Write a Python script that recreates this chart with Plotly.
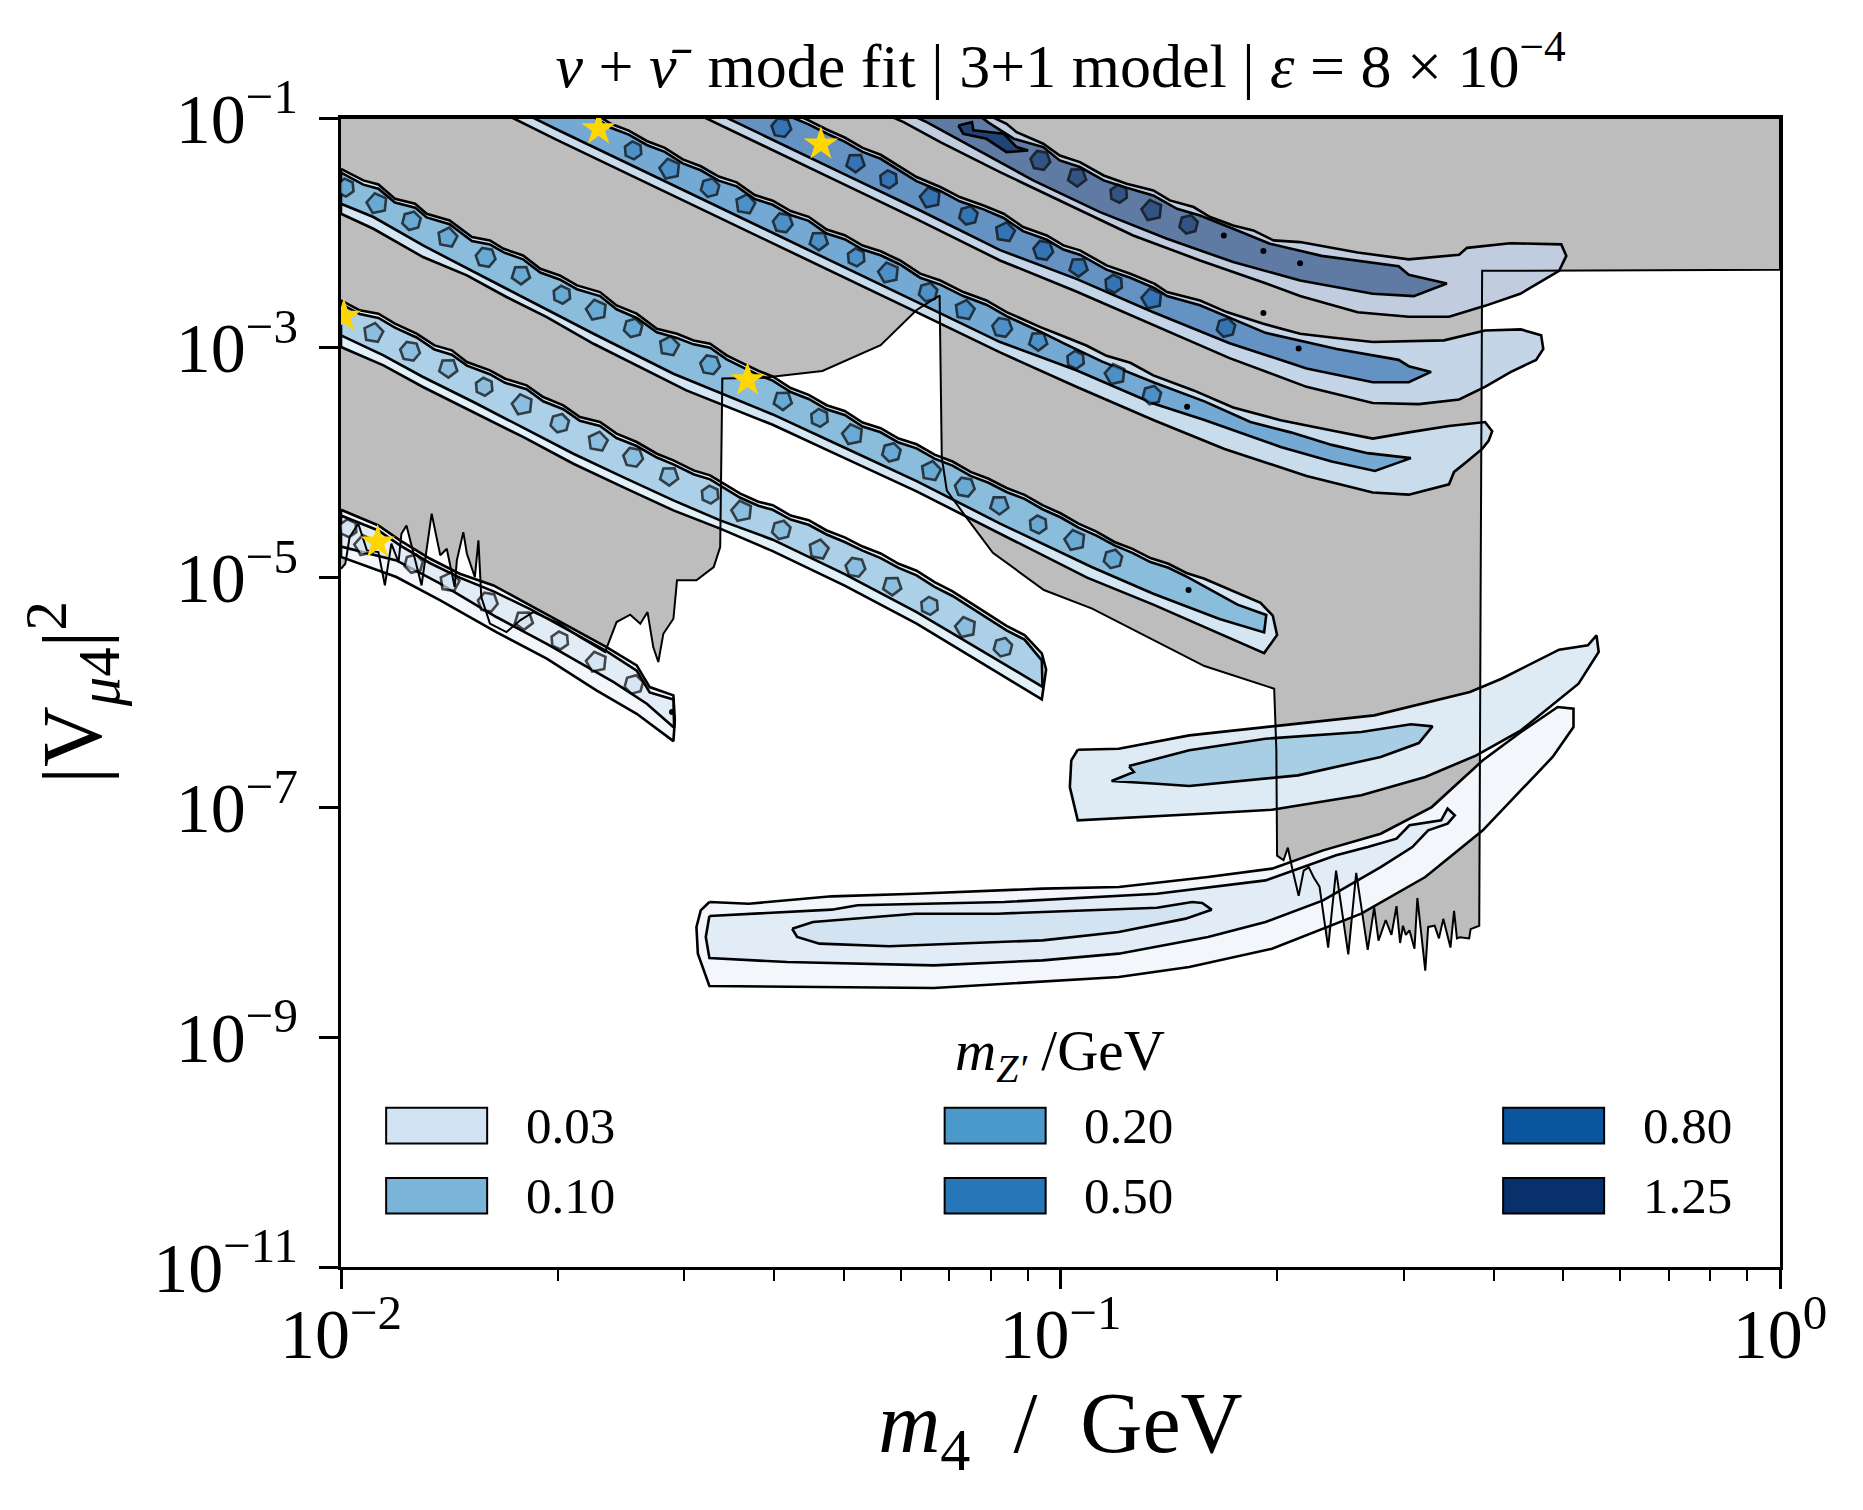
import plotly.graph_objects as go

# all coordinates are log10(m4), log10(|V|^2) pairs
gray_region = [(-2,-1),(0,-1),(0,-2.32),(-0.2,-2.325),(-0.414,-2.33),(-0.416,-5.0),(-0.418,-8.03),(-0.43,-8.06),(-0.432,-8.14),(-0.445,-8.13),(-0.449,-8.14),(-0.453,-7.9),(-0.458,-8.22),(-0.468,-7.97),(-0.474,-8.14),(-0.48,-8.03),(-0.489,-8.04),(-0.493,-8.42),(-0.504,-7.79),(-0.508,-8.23),(-0.515,-8.07),(-0.52,-8.11),(-0.524,-8.03),(-0.528,-8.18),(-0.533,-7.86),(-0.54,-8.11),(-0.548,-7.98),(-0.558,-8.16),(-0.564,-7.87),(-0.573,-8.24),(-0.589,-7.57),(-0.6,-8.28),(-0.617,-7.55),(-0.628,-8.22),(-0.64,-7.69),(-0.648,-7.61),(-0.655,-7.52),(-0.662,-7.55),(-0.669,-7.77),(-0.678,-7.53),(-0.684,-7.35),(-0.69,-7.46),(-0.699,-7.42),(-0.7,-6.5),(-0.703,-5.967),(-0.80,-5.77),(-0.871,-5.54),(-0.956,-5.27),(-1.023,-5.108),(-1.094,-4.784),(-1.133,-4.458),(-1.158,-4.242),(-1.165,-3.953),(-1.168,-2.545),(-1.2,-2.671),(-1.25,-2.978),(-1.331,-3.202),(-1.413,-3.26),(-1.47,-3.267),(-1.473,-4.734),(-1.482,-4.908),(-1.506,-5.024),(-1.533,-5.024),(-1.538,-5.358),(-1.552,-5.489),(-1.559,-5.735),(-1.566,-5.605),(-1.574,-5.30),(-1.584,-5.401),(-1.598,-5.323),(-1.617,-5.387),(-1.633,-5.648),(-1.668,-5.518),(-1.696,-5.401),(-1.733,-5.30),(-1.751,-5.372),(-1.77,-5.474),(-1.793,-5.401),(-1.805,-5.169),(-1.809,-4.676),(-1.814,-4.995),(-1.825,-4.792),(-1.83,-4.604),(-1.839,-4.85),(-1.842,-5.082),(-1.853,-4.749),(-1.862,-4.807),(-1.874,-4.444),(-1.888,-5.068),(-1.909,-4.546),(-1.916,-4.618),(-1.92,-4.865),(-1.93,-4.705),(-1.939,-5.068),(-1.948,-4.778),(-1.964,-4.763),(-1.976,-4.531),(-1.988,-4.647),(-1.994,-4.879),(-2,-4.923)]

d1_outer = [(-2,-4.41),(-1.948,-4.546),(-1.918,-4.676),(-1.876,-4.836),(-1.835,-4.966),(-1.788,-5.068),(-1.737,-5.242),(-1.691,-5.401),(-1.631,-5.605),(-1.589,-5.764),(-1.571,-5.953),(-1.538,-6.025),(-1.536,-6.243),(-1.538,-6.423),(-1.589,-6.185),(-1.645,-5.982),(-1.714,-5.706),(-1.784,-5.474),(-1.862,-5.198),(-1.923,-4.995),(-2,-4.82)]
d1_mid = [(-2,-4.46),(-1.948,-4.59),(-1.918,-4.72),(-1.876,-4.875),(-1.835,-5.0),(-1.788,-5.12),(-1.737,-5.275),(-1.691,-5.435),(-1.631,-5.64),(-1.589,-5.81),(-1.571,-6.0),(-1.538,-6.06),(-1.537,-6.307),(-1.575,-6.098),(-1.621,-5.909),(-1.714,-5.576),(-1.784,-5.343),(-1.862,-5.053),(-1.923,-4.85),(-2,-4.73)]
d1_islands_x = [-1.99,-1.967,-1.899,-1.849,-1.796,-1.746,-1.696,-1.645,-1.593]
d1_islands_y = [-4.57,-4.72,-4.879,-5.039,-5.213,-5.372,-5.547,-5.735,-5.93]

d2_outer = [(-2,-2.587),(-1.974,-2.674),(-1.948,-2.703),(-1.925,-2.79),(-1.895,-2.877),(-1.87,-2.979),(-1.846,-3.022),(-1.825,-3.124),(-1.793,-3.196),(-1.772,-3.269),(-1.742,-3.327),(-1.719,-3.428),(-1.691,-3.501),(-1.668,-3.602),(-1.64,-3.646),(-1.617,-3.747),(-1.589,-3.82),(-1.561,-3.922),(-1.538,-3.98),(-1.51,-4.067),(-1.487,-4.11),(-1.464,-4.197),(-1.445,-4.27),(-1.42,-4.34),(-1.4,-4.37),(-1.375,-4.46),(-1.35,-4.5),(-1.325,-4.59),(-1.3,-4.65),(-1.275,-4.73),(-1.25,-4.79),(-1.225,-4.88),(-1.2,-4.94),(-1.175,-5.04),(-1.15,-5.12),(-1.125,-5.22),(-1.1,-5.32),(-1.075,-5.42),(-1.05,-5.5),(-1.026,-5.66),(-1.02,-5.8),(-1.026,-6.06),(-1.1,-5.78),(-1.2,-5.4),(-1.3,-5.07),(-1.4,-4.77),(-1.473,-4.574),(-1.538,-4.415),(-1.608,-4.212),(-1.677,-4.009),(-1.747,-3.776),(-1.816,-3.559),(-1.886,-3.341),(-1.941,-3.153),(-2,-2.993)]
d2_mid = [(-2,-2.62),(-1.974,-2.705),(-1.948,-2.74),(-1.925,-2.825),(-1.895,-2.91),(-1.87,-3.015),(-1.846,-3.06),(-1.825,-3.155),(-1.793,-3.23),(-1.772,-3.305),(-1.742,-3.36),(-1.719,-3.465),(-1.691,-3.535),(-1.668,-3.635),(-1.64,-3.68),(-1.617,-3.785),(-1.589,-3.855),(-1.561,-3.955),(-1.538,-4.015),(-1.51,-4.1),(-1.487,-4.145),(-1.464,-4.235),(-1.445,-4.305),(-1.42,-4.375),(-1.4,-4.41),(-1.375,-4.495),(-1.35,-4.54),(-1.325,-4.625),(-1.3,-4.69),(-1.275,-4.765),(-1.25,-4.83),(-1.225,-4.915),(-1.2,-4.98),(-1.175,-5.08),(-1.15,-5.16),(-1.125,-5.26),(-1.1,-5.36),(-1.075,-5.46),(-1.05,-5.54),(-1.026,-5.72),(-1.025,-5.95),(-1.1,-5.67),(-1.2,-5.3),(-1.3,-4.97),(-1.4,-4.67),(-1.473,-4.502),(-1.538,-4.328),(-1.608,-4.125),(-1.677,-3.922),(-1.747,-3.695),(-1.816,-3.472),(-1.886,-3.254),(-1.941,-3.066),(-2,-2.892)]
d2_islands_x = [-1.955,-1.904,-1.851,-1.801,-1.748,-1.696,-1.643,-1.594,-1.544,-1.487,-1.443,-1.388,-1.336,-1.285,-1.234,-1.182,-1.132,-1.08]
d2_islands_y = [-2.87,-3.03,-3.177,-3.339,-3.495,-3.656,-3.816,-3.953,-4.116,-4.278,-4.422,-4.585,-4.755,-4.91,-5.072,-5.246,-5.433,-5.606]

d3_outer = [(-2,-1.442),(-1.969,-1.543),(-1.948,-1.578),(-1.925,-1.703),(-1.897,-1.746),(-1.881,-1.833),(-1.849,-1.891),(-1.818,-2.036),(-1.793,-2.065),(-1.774,-2.138),(-1.747,-2.196),(-1.723,-2.312),(-1.696,-2.37),(-1.672,-2.457),(-1.64,-2.515),(-1.617,-2.631),(-1.589,-2.703),(-1.561,-2.834),(-1.533,-2.878),(-1.51,-2.936),(-1.487,-2.965),(-1.464,-3.066),(-1.445,-3.124),(-1.42,-3.2),(-1.4,-3.25),(-1.375,-3.35),(-1.35,-3.41),(-1.325,-3.5),(-1.3,-3.55),(-1.275,-3.65),(-1.25,-3.7),(-1.225,-3.79),(-1.2,-3.84),(-1.175,-3.93),(-1.15,-3.99),(-1.125,-4.08),(-1.1,-4.14),(-1.075,-4.22),(-1.05,-4.28),(-1.025,-4.37),(-1.0,-4.44),(-0.975,-4.53),(-0.95,-4.6),(-0.925,-4.69),(-0.9,-4.75),(-0.875,-4.83),(-0.85,-4.88),(-0.825,-4.96),(-0.8,-5.01),(-0.76,-5.12),(-0.722,-5.22),(-0.705,-5.33),(-0.699,-5.5),(-0.717,-5.657),(-0.786,-5.47),(-0.871,-5.235),(-0.963,-5.0),(-1.084,-4.62),(-1.2,-4.25),(-1.3,-3.96),(-1.4,-3.67),(-1.52,-3.371),(-1.584,-3.168),(-1.649,-2.965),(-1.714,-2.733),(-1.77,-2.558),(-1.825,-2.37),(-1.886,-2.21),(-1.955,-1.964),(-2,-1.833)]
d3_mid = [(-2,-1.475),(-1.969,-1.58),(-1.948,-1.615),(-1.925,-1.735),(-1.897,-1.78),(-1.881,-1.865),(-1.849,-1.925),(-1.818,-2.07),(-1.793,-2.1),(-1.774,-2.17),(-1.747,-2.23),(-1.723,-2.345),(-1.696,-2.405),(-1.672,-2.49),(-1.64,-2.55),(-1.617,-2.665),(-1.589,-2.74),(-1.561,-2.865),(-1.533,-2.915),(-1.51,-2.97),(-1.487,-3.0),(-1.464,-3.1),(-1.445,-3.16),(-1.42,-3.235),(-1.4,-3.285),(-1.375,-3.385),(-1.35,-3.445),(-1.325,-3.535),(-1.3,-3.585),(-1.275,-3.685),(-1.25,-3.735),(-1.225,-3.825),(-1.2,-3.875),(-1.175,-3.965),(-1.15,-4.025),(-1.125,-4.115),(-1.1,-4.175),(-1.075,-4.255),(-1.05,-4.315),(-1.025,-4.405),(-1.0,-4.475),(-0.975,-4.565),(-0.95,-4.635),(-0.925,-4.72),(-0.9,-4.785),(-0.875,-4.865),(-0.85,-4.915),(-0.822,-5.0),(-0.754,-5.235),(-0.714,-5.325),(-0.717,-5.477),(-0.779,-5.36),(-0.871,-5.14),(-0.956,-4.91),(-1.084,-4.53),(-1.2,-4.16),(-1.3,-3.87),(-1.4,-3.58),(-1.538,-3.226),(-1.649,-2.878),(-1.77,-2.486),(-1.886,-2.109),(-1.955,-1.862),(-2,-1.746)]
d3_islands_x = [-1.994,-1.95,-1.902,-1.852,-1.799,-1.75,-1.693,-1.645,-1.594,-1.544,-1.487,-1.386,-1.335,-1.289,-1.235,-1.18,-1.133,-1.085,-1.031,-0.98,-0.927]
d3_islands_y = [-1.606,-1.744,-1.895,-2.04,-2.213,-2.365,-2.538,-2.671,-2.827,-2.986,-3.148,-3.459,-3.61,-3.755,-3.91,-4.072,-4.213,-4.368,-4.538,-4.675,-4.838]

d4_outer = [(-1.7,-0.82),(-1.675,-0.9),(-1.65,-0.95),(-1.625,-1.05),(-1.6,-1.11),(-1.575,-1.2),(-1.55,-1.26),(-1.525,-1.36),(-1.5,-1.42),(-1.475,-1.51),(-1.45,-1.56),(-1.425,-1.67),(-1.4,-1.72),(-1.375,-1.81),(-1.35,-1.86),(-1.325,-1.97),(-1.3,-2.02),(-1.275,-2.11),(-1.25,-2.16),(-1.223,-2.24),(-1.195,-2.355),(-1.167,-2.414),(-1.135,-2.515),(-1.103,-2.588),(-1.075,-2.689),(-1.028,-2.82),(-0.996,-2.9),(-0.964,-2.98),(-0.936,-3.07),(-0.903,-3.13),(-0.871,-3.24),(-0.815,-3.371),(-0.76,-3.52),(-0.694,-3.63),(-0.623,-3.72),(-0.566,-3.79),(-0.516,-3.736),(-0.46,-3.68),(-0.41,-3.646),(-0.4,-3.726),(-0.405,-3.81),(-0.414,-3.88),(-0.435,-3.99),(-0.453,-4.08),(-0.46,-4.188),(-0.516,-4.278),(-0.566,-4.26),(-0.658,-4.116),(-0.772,-3.881),(-0.871,-3.628),(-0.978,-3.339),(-1.084,-3.04),(-1.2,-2.69),(-1.3,-2.39),(-1.4,-2.09),(-1.5,-1.79),(-1.6,-1.49),(-1.7,-1.19),(-1.8,-0.88)]
d4_mid = [(-1.7,-0.855),(-1.675,-0.94),(-1.65,-0.985),(-1.625,-1.085),(-1.6,-1.145),(-1.575,-1.235),(-1.55,-1.295),(-1.525,-1.395),(-1.5,-1.455),(-1.475,-1.545),(-1.45,-1.595),(-1.425,-1.705),(-1.4,-1.755),(-1.375,-1.845),(-1.35,-1.895),(-1.325,-2.005),(-1.3,-2.055),(-1.275,-2.145),(-1.25,-2.195),(-1.223,-2.275),(-1.195,-2.39),(-1.167,-2.45),(-1.135,-2.55),(-1.103,-2.625),(-1.075,-2.725),(-1.028,-2.86),(-0.996,-2.96),(-0.942,-3.12),(-0.871,-3.3),(-0.8,-3.466),(-0.736,-3.646),(-0.68,-3.736),(-0.623,-3.845),(-0.573,-3.917),(-0.513,-3.96),(-0.563,-4.072),(-0.623,-3.99),(-0.694,-3.863),(-0.8,-3.628),(-0.871,-3.484),(-0.978,-3.195),(-1.084,-2.95),(-1.2,-2.6),(-1.3,-2.3),(-1.4,-2.0),(-1.5,-1.7),(-1.6,-1.4),(-1.7,-1.1),(-1.8,-0.79)]
d4_islands_x = [-1.594,-1.543,-1.487,-1.438,-1.386,-1.336,-1.284,-1.239,-1.184,-1.133,-1.081,-1.031,-0.979,-0.924,-0.873]
d4_islands_y = [-1.282,-1.444,-1.607,-1.751,-1.913,-2.069,-2.213,-2.347,-2.516,-2.671,-2.823,-2.942,-3.105,-3.231,-3.412]

d5_outer = [(-1.4,-0.87),(-1.375,-0.95),(-1.35,-1.02),(-1.325,-1.1),(-1.3,-1.17),(-1.275,-1.26),(-1.25,-1.32),(-1.223,-1.427),(-1.2,-1.514),(-1.167,-1.601),(-1.14,-1.688),(-1.107,-1.761),(-1.079,-1.833),(-1.052,-1.949),(-1.019,-2.022),(-0.996,-2.109),(-0.973,-2.152),(-0.936,-2.283),(-0.903,-2.355),(-0.869,-2.443),(-0.852,-2.515),(-0.806,-2.588),(-0.769,-2.689),(-0.718,-2.791),(-0.667,-2.878),(-0.623,-2.91),(-0.566,-2.95),(-0.467,-2.935),(-0.41,-2.85),(-0.36,-2.84),(-0.332,-2.89),(-0.329,-3.01),(-0.339,-3.105),(-0.374,-3.21),(-0.41,-3.34),(-0.446,-3.45),(-0.502,-3.49),(-0.566,-3.48),(-0.658,-3.34),(-0.765,-3.09),(-0.871,-2.8),(-0.978,-2.51),(-1.084,-2.24),(-1.2,-1.88),(-1.3,-1.58),(-1.4,-1.28),(-1.5,-0.98)]
d5_mid = [(-1.4,-0.905),(-1.375,-0.99),(-1.35,-1.055),(-1.325,-1.135),(-1.3,-1.205),(-1.275,-1.295),(-1.25,-1.355),(-1.223,-1.46),(-1.2,-1.55),(-1.167,-1.635),(-1.14,-1.725),(-1.107,-1.795),(-1.079,-1.87),(-1.052,-1.985),(-1.019,-2.06),(-0.996,-2.145),(-0.973,-2.19),(-0.936,-2.32),(-0.903,-2.39),(-0.869,-2.48),(-0.852,-2.55),(-0.806,-2.63),(-0.769,-2.73),(-0.715,-2.87),(-0.616,-3.01),(-0.53,-3.105),(-0.516,-3.16),(-0.485,-3.21),(-0.516,-3.3),(-0.566,-3.3),(-0.658,-3.18),(-0.765,-2.96),(-0.871,-2.69),(-0.978,-2.4),(-1.084,-2.15),(-1.2,-1.79),(-1.3,-1.49),(-1.4,-1.19),(-1.5,-0.89)]
d5_islands_x = [-1.388,-1.285,-1.239,-1.181,-1.128,-1.077,-1.024,-0.975,-0.926,-0.873,-0.77]
d5_islands_y = [-1.083,-1.39,-1.534,-1.694,-1.848,-1.993,-2.152,-2.298,-2.443,-2.573,-2.825]

d6_outer = [(-1.15,-0.83),(-1.1,-0.98),(-1.075,-1.05),(-1.061,-1.123),(-1.024,-1.224),(-1.001,-1.326),(-0.973,-1.384),(-0.94,-1.5),(-0.908,-1.572),(-0.871,-1.63),(-0.848,-1.717),(-0.815,-1.775),(-0.792,-1.862),(-0.76,-1.935),(-0.732,-1.978),(-0.704,-2.065),(-0.667,-2.08),(-0.587,-2.17),(-0.516,-2.23),(-0.446,-2.19),(-0.435,-2.13),(-0.375,-2.09),(-0.304,-2.1),(-0.297,-2.2),(-0.307,-2.33),(-0.361,-2.53),(-0.41,-2.635),(-0.46,-2.73),(-0.516,-2.73),(-0.587,-2.69),(-0.667,-2.55),(-0.713,-2.443),(-0.806,-2.24),(-0.899,-2.022),(-0.991,-1.746),(-1.084,-1.471),(-1.167,-1.21),(-1.218,-1.036),(-1.3,-0.81)]
d6_mid = [(-1.1,-1.04),(-1.065,-1.18),(-1.024,-1.253),(-1.001,-1.369),(-0.973,-1.427),(-0.94,-1.543),(-0.908,-1.607),(-0.871,-1.674),(-0.838,-1.79),(-0.806,-1.848),(-0.76,-1.964),(-0.709,-2.094),(-0.637,-2.2),(-0.53,-2.29),(-0.516,-2.365),(-0.463,-2.44),(-0.509,-2.55),(-0.566,-2.53),(-0.667,-2.414),(-0.76,-2.254),(-0.852,-2.051),(-0.945,-1.819),(-1.038,-1.543),(-1.13,-1.224),(-1.186,-1.036),(-1.25,-0.85),(-1.14,-0.85)]
d6_big_island = [(-1.142,-1.065),(-1.123,-1.036),(-1.121,-1.108),(-1.079,-1.137),(-1.061,-1.253),(-1.045,-1.282),(-1.075,-1.297),(-1.103,-1.181),(-1.135,-1.137)]
d6_islands_x = [-1.028,-0.977,-0.919,-0.873,-0.822]
d6_islands_y = [-1.369,-1.514,-1.659,-1.804,-1.926]

small_islands_x = [-0.822,-0.824,-0.773,-0.718,-0.667,-0.669,-0.718,-1.54]
small_islands_y = [-5.108,-3.513,-2.022,-2.158,-2.264,-3.007,-2.698,-6.17]

arc1_outer = [(-1.488,-7.823),(-1.433,-7.838),(-1.318,-7.774),(-1.202,-7.751),(-1.025,-7.707),(-0.919,-7.693),(-0.795,-7.606),(-0.706,-7.533),(-0.635,-7.374),(-0.555,-7.229),(-0.484,-6.997),(-0.413,-6.59),(-0.36,-6.344),(-0.309,-6.126),(-0.287,-6.141),(-0.287,-6.3),(-0.316,-6.561),(-0.369,-6.91),(-0.413,-7.2),(-0.493,-7.606),(-0.582,-7.925),(-0.706,-8.23),(-0.821,-8.389),(-0.919,-8.476),(-1.176,-8.572),(-1.335,-8.563),(-1.488,-8.554),(-1.504,-8.273),(-1.506,-8.041),(-1.5,-7.896)]
arc1_mid = [(-1.488,-7.945),(-1.318,-7.89),(-1.282,-7.852),(-1.078,-7.823),(-0.866,-7.751),(-0.715,-7.635),(-0.617,-7.417),(-0.573,-7.345),(-0.533,-7.272),(-0.515,-7.156),(-0.471,-7.113),(-0.462,-7.011),(-0.452,-7.069),(-0.462,-7.142),(-0.489,-7.2),(-0.511,-7.345),(-0.555,-7.519),(-0.635,-7.809),(-0.715,-7.998),(-0.795,-8.128),(-0.919,-8.273),(-1.025,-8.331),(-1.176,-8.375),(-1.38,-8.346),(-1.488,-8.311),(-1.493,-8.128)]
arc1_inner = [(-1.373,-8.056),(-1.344,-7.998),(-1.202,-7.925),(-1.087,-7.925),(-0.866,-7.873),(-0.817,-7.823),(-0.803,-7.832),(-0.79,-7.89),(-0.826,-7.968),(-0.919,-8.084),(-1.025,-8.157),(-1.238,-8.209),(-1.335,-8.186),(-1.366,-8.128)]
arc2_outer = [(-0.976,-6.498),(-0.919,-6.489),(-0.821,-6.373),(-0.706,-6.295),(-0.564,-6.199),(-0.431,-5.996),(-0.387,-5.88),(-0.307,-5.627),(-0.267,-5.59),(-0.255,-5.503),(-0.252,-5.648),(-0.28,-5.923),(-0.36,-6.329),(-0.422,-6.547),(-0.493,-6.735),(-0.582,-6.895),(-0.706,-7.02),(-0.803,-7.055),(-0.976,-7.113),(-0.987,-6.823),(-0.985,-6.59)]
arc2_inner = [(-0.905,-6.64),(-0.821,-6.503),(-0.715,-6.402),(-0.582,-6.344),(-0.513,-6.277),(-0.483,-6.295),(-0.502,-6.44),(-0.555,-6.561),(-0.67,-6.721),(-0.821,-6.814),(-0.866,-6.794),(-0.929,-6.77),(-0.898,-6.692)]

star_x = [-1.949,-1.996,-1.435,-1.642,-1.333]
star_y = [-4.692,-2.726,-3.28,-1.095,-1.227]

legend_labels = ["0.03","0.10","0.20","0.50","0.80","1.25"]
x_tick_vals = [0.01,0.1,1]
x_tick_text = ["10<sup>−2</sup>","10<sup>−1</sup>","10<sup>0</sup>"]
x_minor_vals = [0.02,0.03,0.04,0.05,0.06,0.07,0.08,0.09,0.2,0.3,0.4,0.5,0.6,0.7,0.8,0.9]
y_tick_vals = [1e-1,1e-3,1e-5,1e-7,1e-9,1e-11]
y_tick_text = ["10<sup>−1</sup>","10<sup>−3</sup>","10<sup>−5</sup>","10<sup>−7</sup>","10<sup>−9</sup>","10<sup>−11</sup>"]

# ---- styles ----
FONT = "Liberation Serif"
GRAY = "#bdbdbd"
LW = 2.6
swatches = ["#d2e3f3","#7ab5d9","#4b98ca","#2676b8","#0b559f","#08306b"]
ISLAND_LOOK = [("pentagon",10,20),("hexagon",15,19),("pentagon",60,21),("hexagon2",25,18),("pentagon",35,19),("hexagon",40,20)]

fig = go.Figure()

def area(points, color, lw=LW, line=True):
    fig.add_trace(go.Scatter(
        x=[10**p[0] for p in points] + [10**points[0][0]],
        y=[10**p[1] for p in points] + [10**points[0][1]],
        mode="lines", fill="toself", fillcolor=color,
        line=dict(color="black" if line else "rgba(0,0,0,0)", width=lw, shape="linear"),
        hoverinfo="skip", showlegend=False))

def islands(xs, ys, color):
    look = [ISLAND_LOOK[(i * 5 + len(xs)) % len(ISLAND_LOOK)] for i in range(len(xs))]
    fig.add_trace(go.Scatter(
        x=[10**v for v in xs], y=[10**v for v in ys], mode="markers",
        marker=dict(color=color, size=[k[2] for k in look], symbol=[k[0] for k in look],
                    angle=[k[1] for k in look], line=dict(color="black", width=2.6)),
        hoverinfo="skip", showlegend=False))

area(gray_region, GRAY, line=False)
area(d6_outer, "#c1cddf"); area(d6_mid, "#5f7ba3"); area(d6_big_island, "#204478"); islands(d6_islands_x, d6_islands_y, "#204478")
area(d5_outer, "#c4d5e8"); area(d5_mid, "#6392c3"); islands(d5_islands_x, d5_islands_y, "#2268ae")
area(d4_outer, "#c9dcec"); area(d4_mid, "#74a9d4"); islands(d4_islands_x, d4_islands_y, "#3d85c2")
area(d3_outer, "#d4e6f3"); area(d3_mid, "#8abcdc"); islands(d3_islands_x, d3_islands_y, "#5ba3d0")
area(d2_outer, "#e2f0f9"); area(d2_mid, "#abd0e7"); islands(d2_islands_x, d2_islands_y, "#7fb8dd")
area(d1_outer, "#f3f7fc"); area(d1_mid, "#e2ecf7"); islands(d1_islands_x, d1_islands_y, "#d2e3f2")
area(arc2_outer, "#deebf5"); area(arc2_inner, "#a8cee5")
area(arc1_outer, "#f3f7fc"); area(arc1_mid, "#e2ecf7"); area(arc1_inner, "#d2e3f2")

fig.add_trace(go.Scatter(
    x=[10**v for v in small_islands_x], y=[10**v for v in small_islands_y], mode="markers",
    marker=dict(symbol="circle", color="black", size=6, line=dict(width=0)),
    hoverinfo="skip", showlegend=False))

# outline of the excluded region sits on top of the bands
fig.add_trace(go.Scatter(
    x=[10**p[0] for p in gray_region], y=[10**p[1] for p in gray_region],
    mode="lines", line=dict(color="black", width=2), hoverinfo="skip", showlegend=False))

fig.add_trace(go.Scatter(
    x=[10**v for v in star_x], y=[10**v for v in star_y], mode="markers",
    marker=dict(symbol="star", color="#ffd700", size=26, line=dict(width=0)),
    hoverinfo="skip", showlegend=False))

shapes, annotations = [], []
L, R, T, B = 287, 1498, 99, 1066
def px(d): return (d - L) / (R - L)
def py(d): return 1 - (d - T) / (B - T)
for col, sx in enumerate([325, 795, 1265]):
    for row, sy in enumerate([932, 991]):
        i = col * 2 + row
        shapes.append(dict(type="rect", xref="paper", yref="paper",
                           x0=px(sx), x1=px(sx + 85), y0=py(sy), y1=py(sy + 30),
                           fillcolor=swatches[i], line=dict(color="black", width=2)))
        annotations.append(dict(xref="paper", yref="paper", x=px(sx + 116), y=py(sy + 15),
                                text=legend_labels[i], showarrow=False, xanchor="left", yanchor="middle",
                                font=dict(family=FONT, size=51, color="black")))
annotations.append(dict(xref="paper", yref="paper", x=px(892), y=py(888),
                        text="<i>m<sub>Z′</sub></i>\u00a0/GeV", showarrow=False, xanchor="center", yanchor="middle",
                        font=dict(family=FONT, size=57, color="black")))

# the page's body adds 8 px on the top and left of the figure
fig.update_layout(
    width=1855, height=1502, margin=dict(l=333, r=83, t=110, b=243),
    paper_bgcolor="white", plot_bgcolor="white", showlegend=False,
    font=dict(family=FONT, color="black"),
    title=dict(text="<i>ν</i> + <i>ν̄</i>\u00a0\u00a0mode fit | 3+1 model | <i>ε</i> = 8 × 10<sup>−4</sup>",
               font=dict(family=FONT, size=62), x=(333 + 1772) / 2 / 1855, xanchor="center",
               y=1 - 57 / 1502, yanchor="middle"),
    shapes=shapes, annotations=annotations,
    xaxis=dict(type="log", range=[-2, 0], showgrid=False, zeroline=False, mirror=True,
               showline=True, linecolor="black", linewidth=3,
               tickmode="array", tickvals=x_tick_vals, ticktext=x_tick_text,
               ticks="outside", ticklen=19, tickwidth=2.5, tickcolor="black", tickangle=0,
               ticklabelstandoff=-15,
               tickfont=dict(family=FONT, size=70, color="black"),
               minor=dict(ticks="outside", ticklen=11, tickwidth=1.5, tickcolor="black",
                          tickmode="array", tickvals=x_minor_vals, showgrid=False),
               title=dict(text="<i>m</i><sub>4</sub>\u00a0\u00a0/\u00a0\u00a0GeV", font=dict(family=FONT, size=86), standoff=20)),
    yaxis=dict(type="log", range=[-11, -1], showgrid=False, zeroline=False, mirror=True,
               showline=True, linecolor="black", linewidth=3,
               tickmode="array", tickvals=y_tick_vals, ticktext=y_tick_text,
               ticks="outside", ticklen=19, tickwidth=2.5, tickcolor="black",
               ticklabelstandoff=7,
               tickfont=dict(family=FONT, size=70, color="black"),
               title=dict(text="|V<sub><i>μ</i>4</sub>|<sup>2</sup>", font=dict(family=FONT, size=84), standoff=24)),
)

fig.write_html("out.html")
